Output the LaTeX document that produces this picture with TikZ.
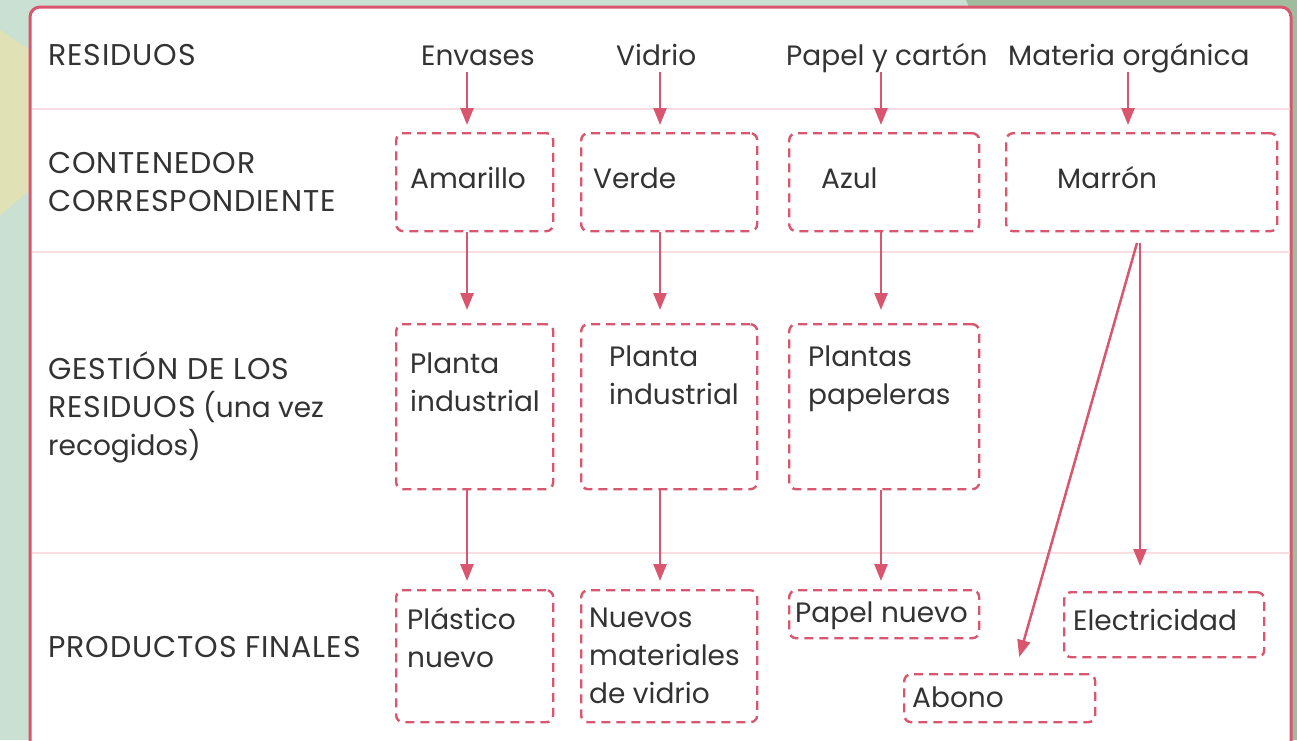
\documentclass[tikz,border=0pt]{standalone}
\usepackage{fontspec}
\setmainfont{Poppins}
\usetikzlibrary{arrows.meta,calc}
\definecolor{pk}{HTML}{D9566F}
\definecolor{sep}{HTML}{F8DEE3}
\definecolor{tx}{HTML}{333333}
\definecolor{bgl}{HTML}{C9E0D3}
\definecolor{bgd}{HTML}{9FBD9C}
\definecolor{bgy}{HTML}{E0E1B5}
\newcommand{\capsp}[1]{{\fontsize{30}{38}\selectfont\addfontfeature{LetterSpace=3}#1}}
\begin{document}
\begin{tikzpicture}[x=1pt,y=-1pt,
  txt/.style={anchor=base west,inner sep=0pt,text=tx,font=\fontsize{28}{38}\selectfont,align=left},
  dbox/.style={draw=pk,line width=2.4pt,dash pattern=on 9pt off 6pt,rounded corners=7pt,inner sep=0pt,anchor=north west},
  arr/.style={draw=pk,line width=2.5pt,-{Triangle[width=13pt,length=17pt]}},
]
\useasboundingbox (0,0) rectangle (1297,740);
% background
\fill[bgl] (0,0) rectangle (1297,740);
\fill[bgd] (966,0) -- (1297,0) -- (1297,740) -- (1285,740) -- cycle;
\fill[bgy] (0,30) -- (30,50) -- (30,190) -- (0,215) -- cycle;
% frame
\draw[pk,line width=3pt,fill=white,rounded corners=10pt] (30,7) rectangle (1291,770);
% separators
\foreach \yy in {109,252,553} \draw[sep,line width=2.5pt] (31.5,\yy) -- (1289.5,\yy);
% row labels (multi-line nodes are placed by the baseline of their last line)
\node[txt] (r1) at (48,65) {\capsp{RESIDUOS}};
\node[txt] (r2) at (48,211) {\capsp{CONTENEDOR}\\\capsp{CORRESPONDIENTE}};
\node[txt] (r3) at (48,455) {\capsp{GESTIÓN DE LOS}\\\capsp{RESIDUOS} (una vez\\recogidos)};
\node[txt] (r4) at (48,657) {\capsp{PRODUCTOS FINALES}};
% headers
\node[txt] (hEnv) at (421,65) {Envases};
\node[txt] (hVid) at (616,65) {Vidrio};
\node[txt] (hPap) at (786,65) {Papel y cartón};
\node[txt] (hMat) at (1008,65) {Materia orgánica};
% column x
\coordinate (cA) at (467,0);
\coordinate (cB) at (660,0);
\coordinate (cC) at (881,0);
\coordinate (cD) at (1128,0);
\coordinate (cM) at (1140,0);
% boxes
\node[dbox,minimum width=157pt,minimum height=98pt] (bAma) at (395,132) {};
\node[dbox,minimum width=176pt,minimum height=98pt] (bVer) at (580,132) {};
\node[dbox,minimum width=190pt,minimum height=98pt] (bAzu) at (788,132) {};
\node[dbox,minimum width=271pt,minimum height=98pt] (bMar) at (1005,132) {};
\node[dbox,minimum width=157pt,minimum height=165pt] (bPl1) at (395,323) {};
\node[dbox,minimum width=176pt,minimum height=165pt] (bPl2) at (580,323) {};
\node[dbox,minimum width=190pt,minimum height=165pt] (bPap) at (788,323) {};
\node[dbox,minimum width=157pt,minimum height=132pt] (bPla) at (395,589) {};
\node[dbox,minimum width=176pt,minimum height=132pt] (bNue) at (580,589) {};
\node[dbox,minimum width=190pt,minimum height=48pt] (bPn) at (788,589) {};
\node[dbox,minimum width=200pt,minimum height=65pt] (bEle) at (1063,591) {};
\node[dbox,minimum width=191pt,minimum height=48pt] (bAbo) at (903,673) {};
% box texts
\node[txt] (tAma) at (410,188) {Amarillo};
\node[txt] (tVer) at (593,188) {Verde};
\node[txt] (tAzu) at (821,188) {Azul};
\node[txt] (tMar) at (1057,188) {Marrón};
\node[txt] (tPl1) at (410,411) {Planta\\industrial};
\node[txt] (tPl2) at (609,404) {Planta\\industrial};
\node[txt] (tPap) at (808,404) {Plantas\\papeleras};
\node[txt] (tPla) at (407,667) {Plástico\\nuevo};
\node[txt] (tNue) at (589,703) {Nuevos\\materiales\\de vidrio};
\node[txt] (tPn) at (795,622) {Papel nuevo};
\node[txt] (tEle) at (1073,630) {Electricidad};
\node[txt] (tAbo) at (912,707) {Abono};
% arrows
\draw[arr,shorten <=7pt,shorten >=7pt] (hEnv.base -| cA) -- (bAma.north -| cA);
\draw[arr,shorten <=7pt,shorten >=7pt] (hVid.base -| cB) -- (bVer.north -| cB);
\draw[arr,shorten <=7pt,shorten >=7pt] (hPap.base -| cC) -- (bAzu.north -| cC);
\draw[arr,shorten <=7pt,shorten >=7pt] (hMat.base -| cD) -- (bMar.north -| cD);
\draw[arr,shorten >=13pt] (bAma.south -| cA) -- (bPl1.north -| cA);
\draw[arr,shorten >=13pt] (bVer.south -| cB) -- (bPl2.north -| cB);
\draw[arr,shorten >=13pt] (bAzu.south -| cC) -- (bPap.north -| cC);
\draw[arr,shorten >=8pt] (bPl1.south -| cA) -- (bPla.north -| cA);
\draw[arr,shorten >=8pt] (bPl2.south -| cB) -- (bNue.north -| cB);
\draw[arr,shorten >=8pt] (bPap.south -| cC) -- (bPn.north -| cC);
\draw[arr,shorten <=11pt] (bMar.south -| cM) -- ($(bAbo.north)+(19.5,-16)$);
\draw[arr,shorten <=11pt,shorten >=25pt] (bMar.south -| cM) -- (bEle.north -| cM);
\end{tikzpicture}
\end{document}
